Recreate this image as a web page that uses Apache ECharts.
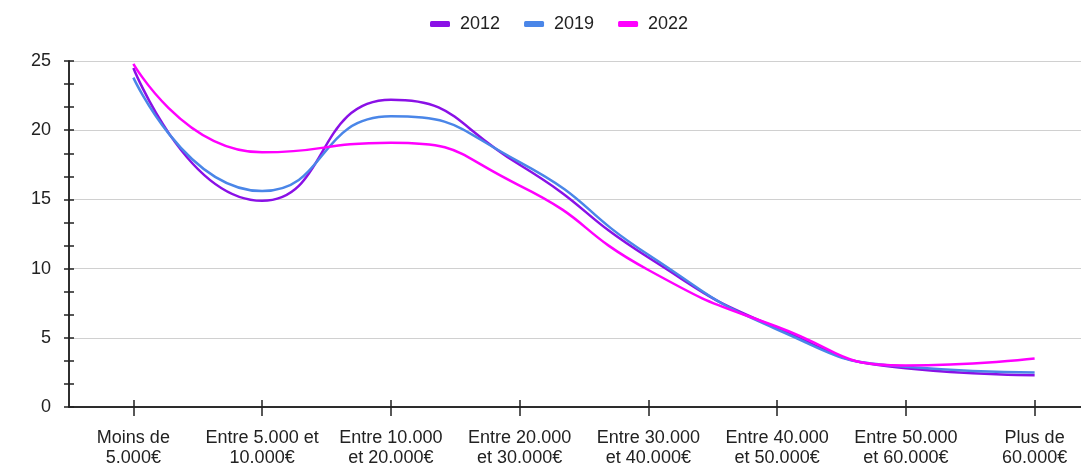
<!DOCTYPE html>
<html><head><meta charset="utf-8">
<script src="https://cdn.jsdelivr.net/npm/echarts@6/dist/echarts.min.js"></script>
<style>html,body{margin:0;padding:0;background:#fff}#c{width:1081px;height:463px}</style>
</head><body><div id="c"></div>
<script>
const categories = ["Moins de\n5.000€","Entre 5.000 et\n10.000€","Entre 10.000\net 20.000€","Entre 20.000\net 30.000€","Entre 30.000\net 40.000€","Entre 40.000\net 50.000€","Entre 50.000\net 60.000€","Plus de\n60.000€"];
const s2012 = [24.5, 14.9, 22.2, 17.5, 10.8, 5.7, 2.8, 2.3];
const s2019 = [23.8, 15.6, 21.0, 17.7, 11.0, 5.6, 2.9, 2.5];
const s2022 = [24.8, 18.4, 19.1, 16.0, 9.9, 5.8, 3.0, 3.5];
const seriesNames = ["2012","2019","2022"];
const colors = ["#8a10e6","#4a86e8","#ff00ff"];

const font = '"Liberation Sans", Arial, sans-serif';
const chart = echarts.init(document.getElementById('c'), null, {renderer:'canvas'});
const mkSeries = (name, data, color) => ({
  name, type:'line', data, smooth:0.55, showSymbol:false, symbol:'none',
  lineStyle:{color, width:2.5}, itemStyle:{color}, xAxisIndex:0, yAxisIndex:0
});
const gridBox = {left:69, right:-18, top:61, bottom:56, containLabel:false, outerBoundsMode:'none'};
const yBase = {type:'value', min:0, max:25, interval:5, position:'left'};
const tickLine = {color:'#222', width:1.5};
chart.setOption({
  animation:false,
  legend:{top:10, left:425, itemWidth:20, itemHeight:6, itemGap:24, icon:'roundRect',
    textStyle:{fontFamily:font, fontSize:18, color:'#222', padding:[0,0,0,5]},
    data:seriesNames},
  grid:[Object.assign({}, gridBox), Object.assign({}, gridBox)],
  xAxis:[
    {type:'category', data:categories, gridIndex:0, position:'bottom', boundaryGap:true,
     axisLine:{show:true, lineStyle:tickLine},
     axisTick:{show:true, alignWithLabel:true, length:9, lineStyle:tickLine},
     axisLabel:{fontFamily:font, fontSize:18, color:'#222', lineHeight:20, margin:21, interval:0},
     splitLine:{show:false}},
    {type:'category', data:categories, gridIndex:1, position:'bottom', boundaryGap:true,
     axisLine:{show:true, onZero:false, lineStyle:tickLine},
     axisTick:{show:true, inside:true, alignWithLabel:true, length:7, lineStyle:tickLine},
     axisLabel:{show:false}, splitLine:{show:false}}
  ],
  yAxis:[
    Object.assign({}, yBase, {gridIndex:0,
     axisLine:{show:true, lineStyle:tickLine},
     axisTick:{show:true, length:5, lineStyle:tickLine},
     minorTick:{show:true, splitNumber:3, length:5, lineStyle:tickLine},
     axisLabel:{fontFamily:font, fontSize:18, color:'#222', margin:18},
     splitLine:{show:true, lineStyle:{color:'#d0d0d0', width:1.2}}}),
    Object.assign({}, yBase, {gridIndex:1,
     axisLine:{show:true, onZero:false, lineStyle:tickLine},
     axisTick:{show:true, inside:true, length:5, lineStyle:tickLine},
     minorTick:{show:true, splitNumber:3, length:5, lineStyle:tickLine},
     axisLabel:{show:false}, splitLine:{show:false}})
  ],
  series:[
    mkSeries(seriesNames[0], s2012, colors[0]),
    mkSeries(seriesNames[1], s2019, colors[1]),
    mkSeries(seriesNames[2], s2022, colors[2]),
    {type:'line', data:[], xAxisIndex:1, yAxisIndex:1, silent:true, symbol:'none'}
  ]
});
</script></body></html>
